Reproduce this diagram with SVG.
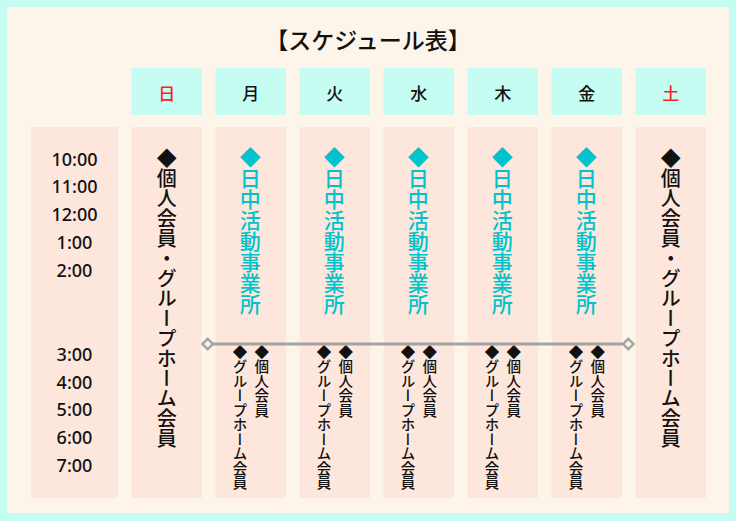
<svg xmlns="http://www.w3.org/2000/svg" width="736" height="521" viewBox="0 0 736 521">
<defs>
<style>
.hd{fill:#c6fdf3}
.bd{fill:#fde6db}
.jp{font-family:"Noto Sans CJK JP","Noto Sans",sans-serif;font-weight:500}
.ht{font-size:17px;text-anchor:middle;dominant-baseline:central}
.vt{writing-mode:vertical-rl;text-anchor:start}
.big{font-size:20px;fill:#111}
.cy{font-size:21px;fill:#00c3cc}
.sm{font-size:14.5px;fill:#111}
.tm{font-family:"Noto Sans","Open Sans",sans-serif;font-weight:500;font-size:18px;fill:#111;text-anchor:middle}
</style>
<marker id="dia" viewBox="0 0 14 14" refX="7" refY="7" markerWidth="14" markerHeight="14" markerUnits="userSpaceOnUse" orient="auto">
<path d="M7 1.8 L12.2 7 L7 12.2 L1.8 7 Z" fill="#fdf1e6" stroke="#a4a4a4" stroke-width="2.4"/>
</marker>
</defs>
<rect x="0" y="0" width="736" height="521" fill="#c6fdf3"/>
<rect x="7" y="7" width="722" height="506" fill="#fdf5ea"/>
<text id="title" class="jp" x="368" y="49" font-size="23" fill="#111" text-anchor="middle">【スケジュール表】</text>

<g id="header">
<g id="h-sun"><rect class="hd" x="131.5" y="68" width="70.5" height="47"/><text class="jp ht" x="166.7" y="92" fill="#ff1e1e">日</text></g>
<g id="h-mon"><rect class="hd" x="215.5" y="68" width="70.5" height="47"/><text class="jp ht" x="250.7" y="92" fill="#111">月</text></g>
<g id="h-tue"><rect class="hd" x="299.5" y="68" width="70.5" height="47"/><text class="jp ht" x="334.7" y="92" fill="#111">火</text></g>
<g id="h-wed"><rect class="hd" x="383.5" y="68" width="70.5" height="47"/><text class="jp ht" x="418.7" y="92" fill="#111">水</text></g>
<g id="h-thu"><rect class="hd" x="467.5" y="68" width="70.5" height="47"/><text class="jp ht" x="502.7" y="92" fill="#111">木</text></g>
<g id="h-fri"><rect class="hd" x="551.5" y="68" width="70.5" height="47"/><text class="jp ht" x="586.7" y="92" fill="#111">金</text></g>
<g id="h-sat"><rect class="hd" x="635.5" y="68" width="70.5" height="47"/><text class="jp ht" x="670.7" y="92" fill="#ff1e1e">土</text></g>
</g>

<g id="time">
<rect class="bd" x="31" y="127" width="87" height="371"/>
<text class="tm" x="74.5" y="165.7">10:00</text>
<text class="tm" x="74.5" y="193.4">11:00</text>
<text class="tm" x="74.5" y="221.2">12:00</text>
<text class="tm" x="74.5" y="249">1:00</text>
<text class="tm" x="74.5" y="276.7">2:00</text>
<text class="tm" x="74.5" y="360.9">3:00</text>
<text class="tm" x="74.5" y="388.6">4:00</text>
<text class="tm" x="74.5" y="416.4">5:00</text>
<text class="tm" x="74.5" y="444.1">6:00</text>
<text class="tm" x="74.5" y="471.9">7:00</text>
</g>

<g id="sun">
<rect class="bd" x="131.5" y="127" width="70.5" height="371"/>
<text class="jp vt big" x="166.7" y="148">◆個人会員・グループホーム会員</text>
</g>
<g id="mon">
<rect class="bd" x="215.5" y="127" width="70.5" height="371"/>
<text class="jp vt cy" x="250.3" y="147">◆日中活動事業所</text>
<text class="jp vt sm" x="261.8" y="345">◆個人会員</text>
<text class="jp vt sm" x="240" y="345">◆グループホーム会員</text>
</g>
<g id="tue">
<rect class="bd" x="299.5" y="127" width="70.5" height="371"/>
<text class="jp vt cy" x="334.3" y="147">◆日中活動事業所</text>
<text class="jp vt sm" x="345.8" y="345">◆個人会員</text>
<text class="jp vt sm" x="324" y="345">◆グループホーム会員</text>
</g>
<g id="wed">
<rect class="bd" x="383.5" y="127" width="70.5" height="371"/>
<text class="jp vt cy" x="418.3" y="147">◆日中活動事業所</text>
<text class="jp vt sm" x="429.8" y="345">◆個人会員</text>
<text class="jp vt sm" x="408" y="345">◆グループホーム会員</text>
</g>
<g id="thu">
<rect class="bd" x="467.5" y="127" width="70.5" height="371"/>
<text class="jp vt cy" x="502.3" y="147">◆日中活動事業所</text>
<text class="jp vt sm" x="513.8" y="345">◆個人会員</text>
<text class="jp vt sm" x="492" y="345">◆グループホーム会員</text>
</g>
<g id="fri">
<rect class="bd" x="551.5" y="127" width="70.5" height="371"/>
<text class="jp vt cy" x="586.3" y="147">◆日中活動事業所</text>
<text class="jp vt sm" x="597.8" y="345">◆個人会員</text>
<text class="jp vt sm" x="576" y="345">◆グループホーム会員</text>
</g>
<g id="sat">
<rect class="bd" x="635.5" y="127" width="70.5" height="371"/>
<text class="jp vt big" x="670.7" y="148">◆個人会員・グループホーム会員</text>
</g>

<g id="connectors">
<line x1="207.7" y1="344" x2="628.3" y2="344" stroke="#a4a4a4" stroke-width="3" marker-start="url(#dia)" marker-end="url(#dia)"/>
</g>
</svg>
